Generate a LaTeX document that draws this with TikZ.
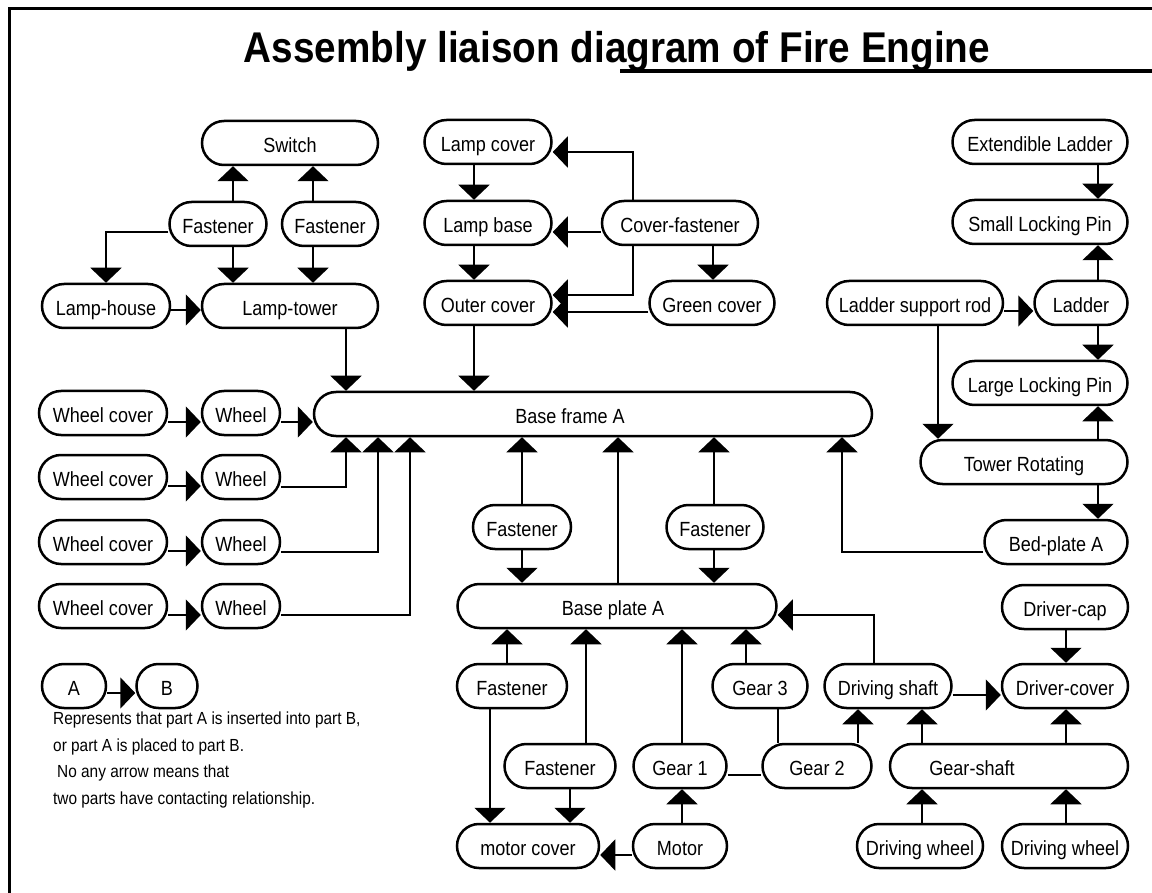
\documentclass[tikz,border=0pt]{standalone}
\usepackage{fontspec}
\setmainfont{Liberation Sans}
\newfontfamily\nodefont[FakeStretch=0.88]{Liberation Sans}
\newfontfamily\titlefont[FakeStretch=0.9]{Liberation Sans}
\usetikzlibrary{arrows.meta}
\tikzset{
  part/.style={draw, line width=2.5pt, rectangle, rounded corners=22pt,
    minimum height=44pt, inner sep=0pt, fill=white,
    text height=19pt, text depth=0.5pt,
    font=\nodefont\fontsize{20.5}{24}\selectfont},
  arr/.style={line width=2.2pt, -{Triangle[width=31pt,length=15pt]}},
  link/.style={line width=2.2pt},
  legendtext/.style={anchor=west, inner sep=0pt, font=\nodefont\fontsize{17.5}{20}\selectfont},
}
\begin{document}
\begin{tikzpicture}[x=1pt,y=-1pt]
\useasboundingbox[fill=white] (0,0) rectangle (1152,893);
% frame and title
\draw[line width=3.5pt] (9.5,893) -- (9.5,8.5) -- (1152,8.5);
\node[anchor=base, inner sep=0pt, font=\titlefont\bfseries\fontsize{43}{48}\selectfont] (title) at (617,63) {Assembly liaison diagram of Fire Engine};
\draw[line width=3.5pt] (620,71) -- (1152,71);

% top-left group
\node[part, minimum width=176] (switch) at (290,143) {Switch};
\node[part, minimum width=97] (fas1) at (218,224) {Fastener};
\node[part, minimum width=96] (fas2) at (330,224) {Fastener};
\node[part, minimum width=128] (lamphouse) at (106,306) {Lamp-house};
\node[part, minimum width=176] (lamptower) at (290,306) {Lamp-tower};

% top-middle group
\node[part, minimum width=127] (lampcover) at (488,142) {Lamp cover};
\node[part, minimum width=127] (lampbase) at (488,223) {Lamp base};
\node[part, minimum width=127] (outercover) at (488,303) {Outer cover};
\node[part, minimum width=156] (coverfas) at (680,223) {Cover-fastener};
\node[part, minimum width=125] (greencover) at (712,303) {Green cover};

% top-right group
\node[part, minimum width=175] (extladder) at (1040,142) {Extendible Ladder};
\node[part, minimum width=175] (smallpin) at (1040,222) {Small Locking Pin};
\node[part, minimum width=176] (ladderrod) at (915,303) {Ladder support rod};
\node[part, minimum width=93] (ladder) at (1081,303) {Ladder};
\node[part, minimum width=175] (largepin) at (1040,383) {Large Locking Pin};
\node[part, minimum width=207] (tower) at (1024,462) {Tower Rotating};
\node[part, minimum width=143] (bedplate) at (1056,542) {Bed-plate A};
\node[part, minimum width=126] (drivercap) at (1065,607) {Driver-cap};

% middle
\node[part, minimum width=558] (baseframe) at (593,414) {\hspace*{-46pt}Base frame A};
\foreach \i/\y in {1/413,2/477,3/542,4/606}{
  \node[part, minimum width=128] (wc\i) at (103,\y) {Wheel cover};
  \node[part, minimum width=78] (wh\i) at (241,\y) {Wheel};
}
\node[part, minimum width=98] (fasm1) at (522,527) {Fastener};
\node[part, minimum width=97] (fasm2) at (715,527) {Fastener};
\node[part, minimum width=319] (baseplate) at (617,606) {\hspace*{-8pt}Base plate A};

% bottom
\node[part, minimum width=110] (fasb1) at (512,686) {Fastener};
\node[part, minimum width=111] (fasb2) at (560,766) {Fastener};
\node[part, minimum width=93] (gear1) at (680,766) {Gear 1};
\node[part, minimum width=95] (gear3) at (760,686) {Gear 3};
\node[part, minimum width=142] (motorcover) at (528,846) {motor cover};
\node[part, minimum width=94] (motor) at (680,846) {Motor};
\node[part, minimum width=127] (drivingshaft) at (888,686) {Driving shaft};
\node[part, minimum width=126] (drivercover) at (1065,686) {Driver-cover};
\node[part, minimum width=109] (gear2) at (817,766) {Gear 2};
\node[part, minimum width=238] (gearshaft) at (1009,766) {\hspace*{-74pt}Gear-shaft};
\node[part, minimum width=126] (dw1) at (920,846) {Driving wheel};
\node[part, minimum width=126] (dw2) at (1065,846) {Driving wheel};

% legend
\node[part, minimum width=64] (la) at (74,686) {A};
\node[part, minimum width=61] (lb) at (167,686) {B};
\node[legendtext] (t1) at (53,720) {Represents that part A is inserted into part B,};
\node[legendtext] (t2) at (53,747) {or part A is placed to part B.};
\node[legendtext] (t3) at (57,773) {No any arrow means that};
\node[legendtext] (t4) at (53,800) {two parts have contacting relationship.};

% ---- connectors ----
% top-left
\draw[arr] ([xshift=15]fas1.north) -- ([xshift=15]fas1.north |- switch.south);
\draw[arr] ([xshift=15]fas1.south) -- ([xshift=15]fas1.south |- lamptower.north);
\draw[arr] ([xshift=-17]fas2.north) -- ([xshift=-17]fas2.north |- switch.south);
\draw[arr] ([xshift=-17]fas2.south) -- ([xshift=-17]fas2.south |- lamptower.north);
\draw[arr] ([yshift=-8]fas1.west) -| (lamphouse.north);
\draw[arr] ([yshift=-4]lamphouse.east) -- ([yshift=-4]lamphouse.east -| lamptower.west);
\draw[arr] ([xshift=56]lamptower.south) -- ([xshift=56]lamptower.south |- baseframe.north);

% top-middle
\draw[arr] ([xshift=-14]lampcover.south) -- ([xshift=-14]lampcover.south |- lampbase.north);
\draw[arr] ([xshift=-14]lampbase.south) -- ([xshift=-14]lampbase.south |- outercover.north);
\draw[arr] ([xshift=-14]outercover.south) -- ([xshift=-14]outercover.south |- baseframe.north);
\draw[arr] ([xshift=-47]coverfas.north) |- ([yshift=-10]lampcover.east);
\draw[arr] ([yshift=-9]coverfas.west) -- ([yshift=-9]coverfas.west -| lampbase.east);
\draw[arr] ([xshift=-47]coverfas.south) |- ([yshift=8]outercover.east);
\draw[arr] ([xshift=33]coverfas.south) -- ([xshift=33]coverfas.south |- greencover.north);
\draw[arr] ([yshift=-9]greencover.west) -- ([yshift=-9]greencover.west -| outercover.east);

% top-right
\draw[arr] ([xshift=58]extladder.south) -- ([xshift=58]extladder.south |- smallpin.north);
\draw[arr] ([xshift=17]ladder.north) -- ([xshift=17]ladder.north |- smallpin.south);
\draw[arr] ([yshift=-8]ladderrod.east) -- ([yshift=-8]ladderrod.east -| ladder.west);
\draw[arr] ([xshift=17]ladder.south) -- ([xshift=17]ladder.south |- largepin.north);
\draw[arr] ([xshift=23]ladderrod.south) -- ([xshift=23]ladderrod.south |- tower.north);
\draw[arr] ([xshift=74]tower.north) -- ([xshift=74]tower.north |- largepin.south);
\draw[arr] ([xshift=74]tower.south) -- ([xshift=74]tower.south |- bedplate.north);
\draw[arr] ([yshift=-10]bedplate.west) -| ([xshift=249]baseframe.south);
\draw[arr] ([xshift=1]drivercap.south) -- ([xshift=1]drivercap.south |- drivercover.north);

% wheels
\foreach \i in {1,2,3,4}{
  \draw[arr] ([yshift=-9]wc\i.east) -- ([yshift=-9]wc\i.east -| wh\i.west);
}
\draw[arr] ([yshift=-9]wh1.east) -- ([yshift=-9]wh1.east -| baseframe.west);
\draw[arr] ([yshift=-10]wh2.east) -| ([xshift=-247]baseframe.south);
\draw[arr] ([yshift=-10]wh3.east) -| ([xshift=-215]baseframe.south);
\draw[arr] ([yshift=-9]wh4.east) -| ([xshift=-183]baseframe.south);

% middle
\draw[arr] (fasm1.north) -- (fasm1.north |- baseframe.south);
\draw[arr] (fasm1.south) -- (fasm1.south |- baseplate.north);
\draw[arr] ([xshift=1]baseplate.north) -- ([xshift=1]baseplate.north |- baseframe.south);
\draw[arr] ([xshift=-1]fasm2.north) -- ([xshift=-1]fasm2.north |- baseframe.south);
\draw[arr] ([xshift=-1]fasm2.south) -- ([xshift=-1]fasm2.south |- baseplate.north);
\draw[arr] ([xshift=-14]drivingshaft.north) |- ([yshift=-9]baseplate.east);

% bottom
\draw[arr] ([xshift=-5]fasb1.north) -- ([xshift=-5]fasb1.north |- baseplate.south);
\draw[arr] ([xshift=-22]fasb1.south) -- ([xshift=-22]fasb1.south |- motorcover.north);
\draw[arr] ([xshift=26]fasb2.north) -- ([xshift=26]fasb2.north |- baseplate.south);
\draw[arr] ([xshift=10]fasb2.south) -- ([xshift=10]fasb2.south |- motorcover.north);
\draw[arr] ([xshift=2]gear1.north) -- ([xshift=2]gear1.north |- baseplate.south);
\draw[arr] ([xshift=-14]gear3.north) -- ([xshift=-14]gear3.north |- baseplate.south);
\draw[link] ([xshift=18]gear3.south) -- ([xshift=18]gear3.south |- gear2.north);
\draw[link] ([yshift=-9]gear1.east) -- ([yshift=-9]gear1.east -| gear2.west);
\draw[arr] ([xshift=2]motor.north) -- ([xshift=2]motor.north |- gear1.south);
\draw[arr] ([yshift=-9]motor.west) -- ([yshift=-9]motor.west -| motorcover.east);
\draw[arr] ([yshift=-9]drivingshaft.east) -- ([yshift=-9]drivingshaft.east -| drivercover.west);
\draw[arr] ([xshift=41]gear2.north) -- ([xshift=41]gear2.north |- drivingshaft.south);
\draw[arr] ([xshift=-87]gearshaft.north) -- ([xshift=-87]gearshaft.north |- drivingshaft.south);
\draw[arr] ([xshift=57]gearshaft.north) -- ([xshift=57]gearshaft.north |- drivercover.south);
\draw[arr] ([xshift=2]dw1.north) -- ([xshift=2]dw1.north |- gearshaft.south);
\draw[arr] ([xshift=1]dw2.north) -- ([xshift=1]dw2.north |- gearshaft.south);

% legend arrow
\draw[arr] ([yshift=-7]la.east) -- ([yshift=-7]la.east -| lb.west);
\end{tikzpicture}
\end{document}
